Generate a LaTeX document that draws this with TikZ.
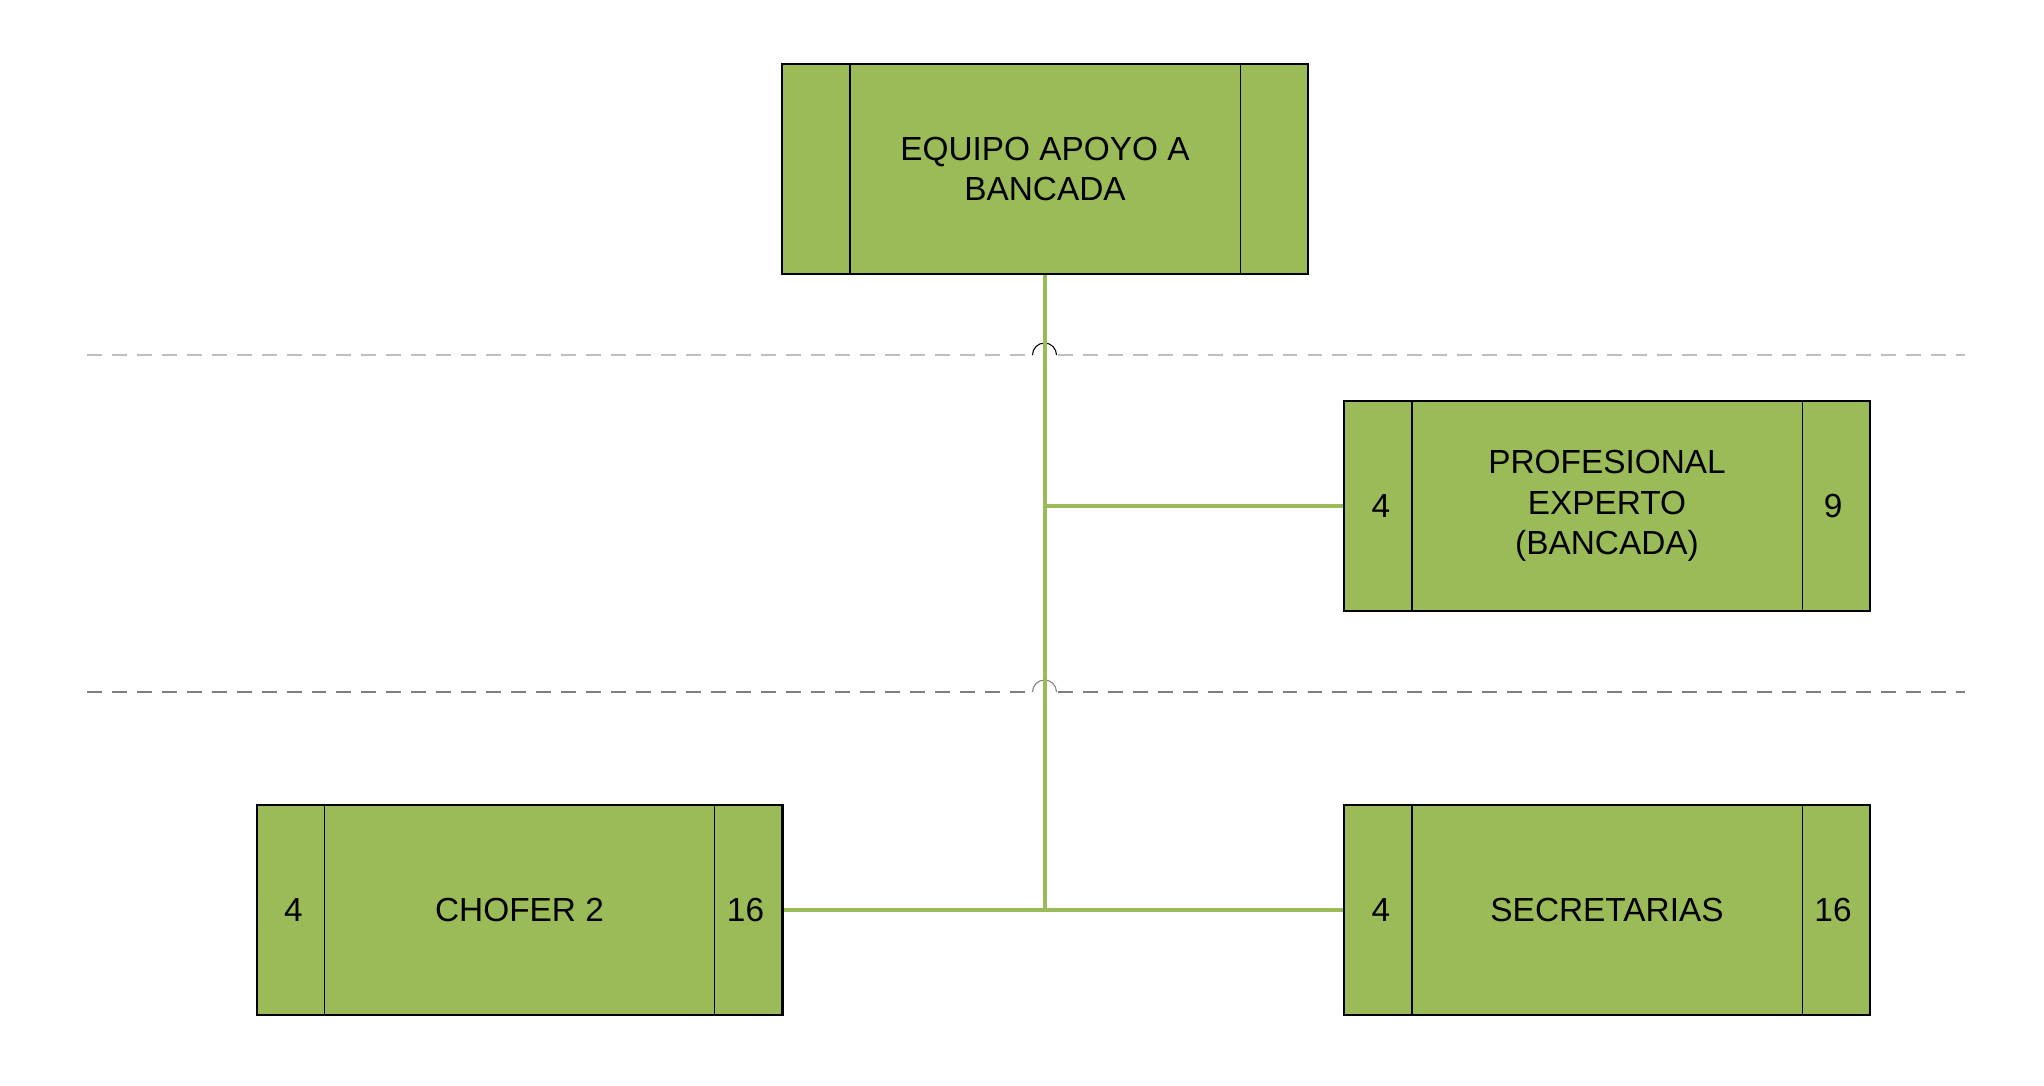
\documentclass[tikz,border=0pt]{standalone}
\usepackage{fontspec}
\setmainfont{Liberation Sans}
\usetikzlibrary{positioning}

\definecolor{verde}{HTML}{9BBB59}
\definecolor{grisclaro}{HTML}{BFBFBF}
\definecolor{grisoscuro}{HTML}{7F7F7F}

\tikzset{
  puesto/.style={draw=black, line width=1.2pt, fill=verde, minimum width=10.52cm, minimum height=4.2cm,
    align=center, font=\fontsize{19}{23}\selectfont},
  numero/.style={font=\fontsize{19}{23}\selectfont},
  linea/.style={verde, line width=2.5pt},
  division/.style={line width=0.85pt, dash pattern=on 8.5pt off 5.7pt},
  salto/.style={line width=0.6pt}
}

\begin{document}
\begin{tikzpicture}[x=0.02cm, y=-0.02cm]
\useasboundingbox (0,0) rectangle (2044,1085);

% lineas de nivel
\draw[division, grisclaro] (87,355) -- (1031,355);
\draw[division, grisclaro] (1058,355) -- (1965,355);
\draw[division, grisoscuro] (87,692) -- (1031,692);
\draw[division, grisoscuro] (1058,692) -- (1965,692);
\draw[salto, black] (1032.5,355) arc (180:360:12);
\draw[salto, grisoscuro] (1032.5,692) arc (180:360:12);

% cargos
\node[puesto] (equipo) at (1045,169) {EQUIPO APOYO A\\BANCADA};
\node[puesto] (prof) at (1607,506) {PROFESIONAL\\EXPERTO\\(BANCADA)};
\node[puesto] (chofer) at (519.5,910) {CHOFER 2};
\node[puesto] (secre) at (1607,910) {SECRETARIAS};

\foreach \n in {equipo,prof,chofer,secre} {
  \draw[line width=0.6pt] ([xshift=1.38cm]\n.north west) -- ([xshift=1.38cm]\n.south west);
  \draw[line width=0.6pt] ([xshift=-1.38cm]\n.north east) -- ([xshift=-1.38cm]\n.south east);
}

% nivel y grado
\node[numero] (prof-niv) at ([xshift=0.76cm]prof.west) {4};
\node[numero] (prof-gr) at ([xshift=-0.76cm]prof.east) {9};
\node[numero] (chofer-niv) at ([xshift=0.76cm]chofer.west) {4};
\node[numero] (chofer-gr) at ([xshift=-0.76cm]chofer.east) {16};
\node[numero] (secre-niv) at ([xshift=0.76cm]secre.west) {4};
\node[numero] (secre-gr) at ([xshift=-0.76cm]secre.east) {16};

% conectores
\coordinate (union) at (equipo.south |- chofer.east);
\draw[linea] (equipo.south) -- (union);
\draw[linea] (equipo.south |- prof.west) -- (prof.west);
\draw[linea] (chofer.east) -- (secre.west);
\end{tikzpicture}
\end{document}
